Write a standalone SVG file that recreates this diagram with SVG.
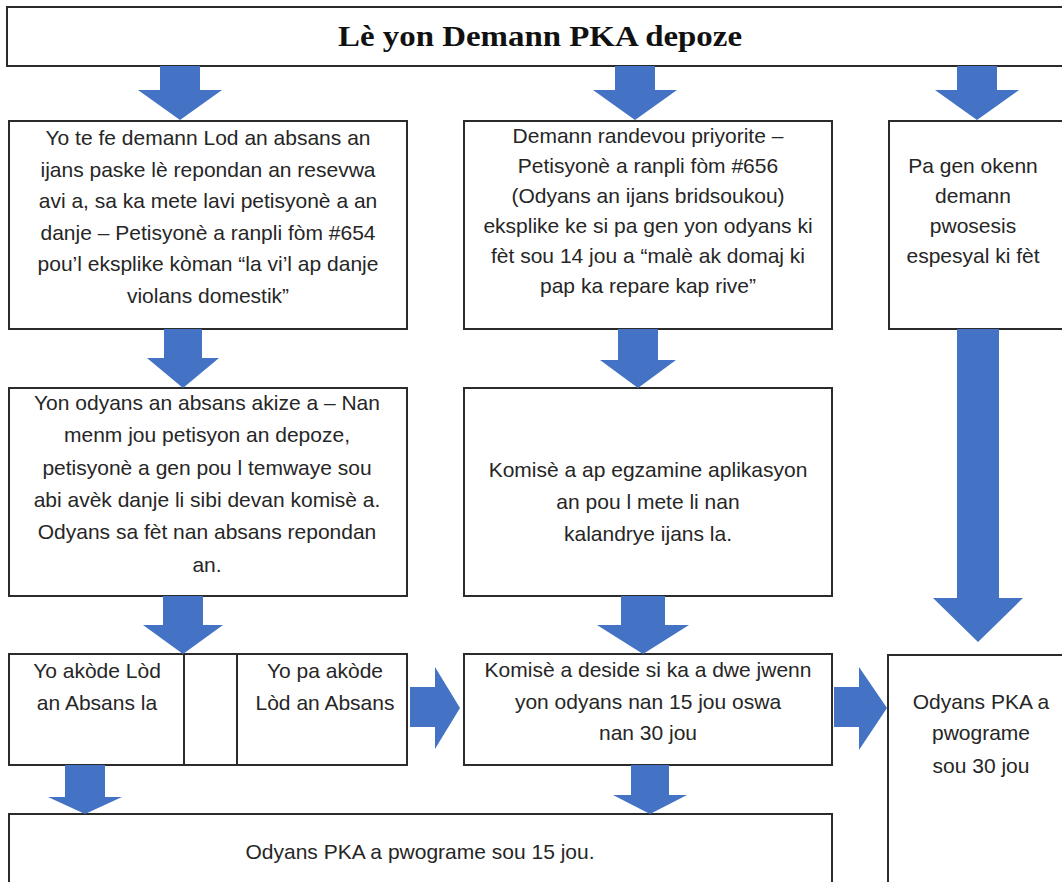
<svg xmlns="http://www.w3.org/2000/svg" width="1062" height="882" viewBox="0 0 1062 882">
<style>
.box{fill:#ffffff;stroke:#2b2b2b;stroke-width:2}
.t{font-family:"Liberation Sans",Arial,sans-serif;font-size:21px;fill:#262626;text-anchor:middle}
.title{font-family:"Liberation Serif","Times New Roman",serif;font-size:30px;font-weight:bold;fill:#111111;text-anchor:middle}
.arr{fill:#4472C4}
</style>
<rect width="1062" height="882" fill="#ffffff"/>
<g id="title">
<rect class="box" x="7" y="7" width="1070" height="59"/>
<text class="title" x="540" y="46" textLength="404" lengthAdjust="spacingAndGlyphs">Lè yon Demann PKA depoze</text>
</g>
<g id="nodeA">
<rect class="box" x="9" y="121" width="398" height="208"/>
<text class="t" x="208" y="145">Yo te fe demann Lod an absans an</text>
<text class="t" x="208" y="176.5">ijans paske lè repondan an resevwa</text>
<text class="t" x="208" y="208">avi a, sa ka mete lavi petisyonè a an</text>
<text class="t" x="208" y="239.5">danje – Petisyonè a ranpli fòm #654</text>
<text class="t" x="208" y="271">pou’l eksplike kòman “la vi’l ap danje</text>
<text class="t" x="208" y="302.5">violans domestik”</text>
</g>
<g id="nodeB">
<rect class="box" x="464" y="121" width="368" height="208"/>
<text class="t" x="648" y="143">Demann randevou priyorite –</text>
<text class="t" x="648" y="173">Petisyonè a ranpli fòm #656</text>
<text class="t" x="648" y="203">(Odyans an ijans bridsoukou)</text>
<text class="t" x="648" y="233">eksplike ke si pa gen yon odyans ki</text>
<text class="t" x="648" y="263">fèt sou 14 jou a “malè ak domaj ki</text>
<text class="t" x="648" y="293">pap ka repare kap rive”</text>
</g>
<g id="nodeC">
<rect class="box" x="889" y="121" width="180" height="208"/>
<text class="t" x="973" y="173">Pa gen okenn</text>
<text class="t" x="973" y="203">demann</text>
<text class="t" x="973" y="233">pwosesis</text>
<text class="t" x="973" y="263">espesyal ki fèt</text>
</g>
<g id="nodeD">
<rect class="box" x="9" y="388" width="398" height="208"/>
<text class="t" x="207" y="410">Yon odyans an absans akize a – Nan</text>
<text class="t" x="207" y="442">menm jou petisyon an depoze,</text>
<text class="t" x="207" y="475">petisyonè a gen pou l temwaye sou</text>
<text class="t" x="207" y="507">abi avèk danje li sibi devan komisè a.</text>
<text class="t" x="207" y="539">Odyans sa fèt nan absans repondan</text>
<text class="t" x="207" y="572">an.</text>
</g>
<g id="nodeE">
<rect class="box" x="464" y="388" width="368" height="208"/>
<text class="t" x="648" y="477">Komisè a ap egzamine aplikasyon</text>
<text class="t" x="648" y="509">an pou l mete li nan</text>
<text class="t" x="648" y="541">kalandrye ijans la.</text>
</g>
<g id="nodeF">
<rect class="box" x="9" y="654" width="398" height="111"/>
<line x1="184" y1="654" x2="184" y2="765" stroke="#2b2b2b" stroke-width="2"/>
<line x1="237" y1="654" x2="237" y2="765" stroke="#2b2b2b" stroke-width="2"/>
<text class="t" x="97" y="678">Yo akòde Lòd</text>
<text class="t" x="97" y="710">an Absans la</text>
<text class="t" x="325" y="678">Yo pa akòde</text>
<text class="t" x="325" y="710">Lòd an Absans</text>
</g>
<g id="nodeG">
<rect class="box" x="464" y="654" width="368" height="111"/>
<text class="t" x="648" y="677">Komisè a deside si ka a dwe jwenn</text>
<text class="t" x="648" y="709">yon odyans nan 15 jou oswa</text>
<text class="t" x="648" y="740">nan 30 jou</text>
</g>
<g id="nodeH">
<rect class="box" x="888" y="655" width="180" height="240"/>
<text class="t" x="981" y="709">Odyans PKA a</text>
<text class="t" x="981" y="740">pwograme</text>
<text class="t" x="981" y="773">sou 30 jou</text>
</g>
<g id="nodeI">
<rect class="box" x="9" y="814" width="823" height="80"/>
<text class="t" x="420" y="859">Odyans PKA a pwograme sou 15 jou.</text>
</g>
<g id="connectors">
<polygon class="arr" points="160,66 200,66 200,90 222,90 180,120 138,90 160,90"/>
<polygon class="arr" points="615,66 655,66 655,90 677,90 635,120 593,90 615,90"/>
<polygon class="arr" points="957,66 997,66 997,90 1019,90 977,120 935,90 957,90"/>
<polygon class="arr" points="164,329 202,329 202,358 219,358 183,388 147,358 164,358"/>
<polygon class="arr" points="618,329 658,329 658,360 676,360 638,388 600,360 618,360"/>
<polygon class="arr" points="957,329 999,329 999,598 1023,598 978,642 933,598 957,598"/>
<polygon class="arr" points="163,596 203,596 203,625 223,625 183,654 143,625 163,625"/>
<polygon class="arr" points="621,596 665,596 665,625 689,625 643,654 597,625 621,625"/>
<polygon class="arr" points="631,765 669,765 669,795 687,795 650,814 613,795 631,795"/>
<polygon class="arr" points="65,765 105,765 105,797 122,797 85,814 48,797 65,797"/>
<polygon class="arr" points="410,687 435,687 435,667 460,708 435,749 435,727 410,727"/>
<polygon class="arr" points="834,687 859,687 859,667 887,708 859,750 859,727 834,727"/>
</g>
</svg>
